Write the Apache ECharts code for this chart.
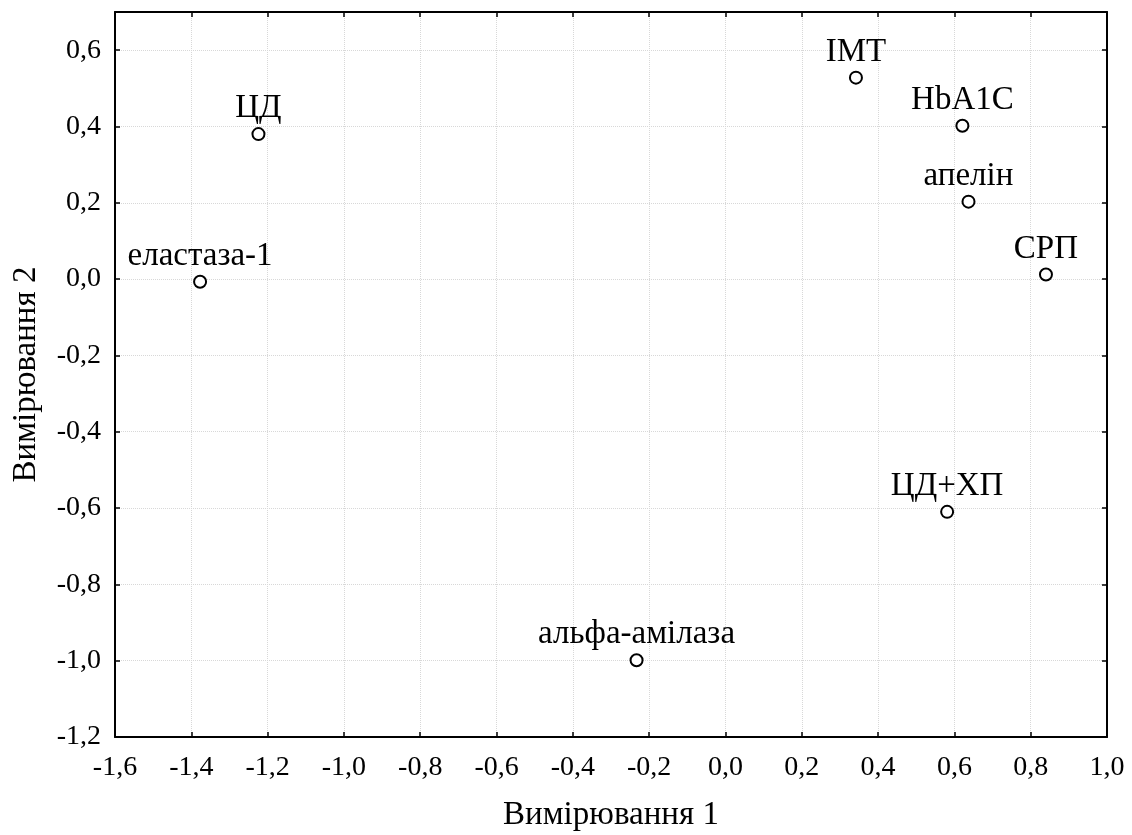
<!DOCTYPE html>
<html>
<head>
<meta charset="utf-8">
<script src="https://cdn.jsdelivr.net/npm/echarts@6/dist/echarts.min.js"></script>
<style>
  html, body { margin: 0; padding: 0; background: #fff; }
  #chart { width: 1132px; height: 835px; }
</style>
</head>
<body>
<div id="chart"></div>
<script>
  // назви точок і координати (вимірювання 1, вимірювання 2)
  var names = ['ЦД', 'еластаза-1', 'IMT', 'HbA1C', 'апелін', 'СРП', 'ЦД+ХП', 'альфа-амілаза']
  var dim1 = [-1.224, -1.377, 0.342, 0.621, 0.637, 0.840, 0.581, -0.233]
  var dim2 = [0.380, -0.007, 0.528, 0.402, 0.203, 0.012, -0.610, -0.999]

  var font = 'Liberation Serif, Times New Roman, serif'
  var fmt = function (v) {
    return v.toFixed(1).replace('.', ',')
  }

  var points = names.map(function (n, i) {
    return { name: n, value: [dim1[i], dim2[i]] }
  })

  var chart = echarts.init(document.getElementById('chart'))

  var lineStyle = { color: '#000', width: 2 }
  var tickStyle = { show: true, inside: true, length: 5, lineStyle: { color: '#000', width: 1.5 } }
  var gridLine = { show: true, lineStyle: { color: '#d8d8d8', type: 'dotted', width: 1 } }

  // осі-дублікати зверху і справа тільки для рамки і рисок
  var boxAxis = {
    axisLine: { show: true, onZero: false, lineStyle: lineStyle },
    axisTick: tickStyle,
    axisLabel: { show: false },
    splitLine: { show: false }
  }

  chart.setOption({
    backgroundColor: '#fff',
    animation: false,
    grid: { left: 115, right: 25, top: 12, bottom: 98, containLabel: false, outerBoundsMode: 'none' },
    xAxis: [{
      type: 'value',
      min: -1.6,
      max: 1.0,
      interval: 0.2,
      name: 'Вимірювання 1',
      nameLocation: 'middle',
      nameGap: 62,
      nameTextStyle: { fontFamily: font, fontSize: 33, color: '#000' },
      axisLine: { show: true, onZero: false, lineStyle: lineStyle },
      axisTick: tickStyle,
      axisLabel: { fontFamily: font, fontSize: 28, color: '#000', margin: 17, formatter: fmt },
      splitLine: gridLine
    }, Object.assign({ type: 'value', position: 'top', min: -1.6, max: 1.0, interval: 0.2 }, boxAxis)],
    yAxis: [{
      type: 'value',
      min: -1.2,
      max: 0.7,
      interval: 0.2,
      name: 'Вимірювання 2',
      nameLocation: 'middle',
      nameGap: 72,
      nameTextStyle: { fontFamily: font, fontSize: 33, color: '#000' },
      axisLine: { show: true, onZero: false, lineStyle: lineStyle },
      axisTick: tickStyle,
      axisLabel: {
        fontFamily: font, fontSize: 28, color: '#000', margin: 14,
        formatter: function (v) { return v > 0.65 ? '' : fmt(v) }
      },
      splitLine: gridLine
    }, Object.assign({ type: 'value', position: 'right', min: -1.2, max: 0.7, interval: 0.2 }, boxAxis)],
    series: [{
      type: 'scatter',
      data: points,
      symbol: 'circle',
      symbolSize: 12,
      itemStyle: { color: '#fff', borderColor: '#000', borderWidth: 2, opacity: 1 },
      label: {
        show: true,
        position: 'top',
        distance: 2,
        formatter: '{b}',
        fontFamily: font,
        fontSize: 33,
        color: '#000'
      }
    }]
  })
</script>
</body>
</html>
